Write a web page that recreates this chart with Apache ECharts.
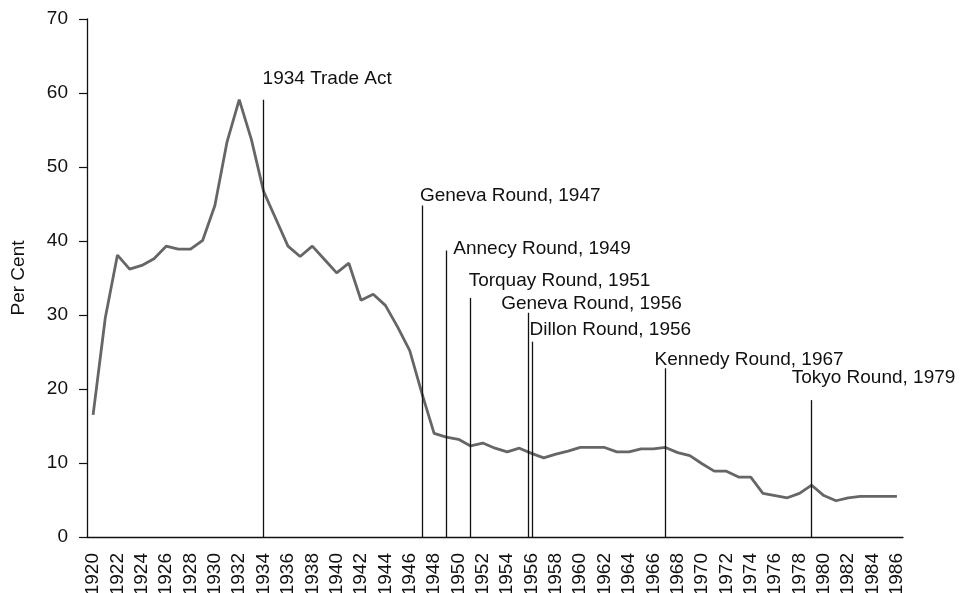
<!DOCTYPE html>
<html>
<head>
<meta charset="utf-8">
<script src="https://cdn.jsdelivr.net/npm/echarts@6/dist/echarts.min.js"></script>
<style>
  html, body { margin: 0; padding: 0; background: #fff; }
  #chart { width: 964px; height: 593px; }
</style>
</head>
<body>
<div id="chart"></div>
<script>
// years on the category axis
var years = []
for (var y = 1920; y <= 1986; y++) years.push(String(y))

// average tariff rate, per cent
var tariffRate = [
  16.5, 29.6, 38.1, 36.2, 36.7, 37.6, 39.3, 38.9, 38.9, 40.1,
  44.8, 53.4, 59.1, 53.7, 46.7, 43.0, 39.3, 37.9, 39.3, 37.5,
  35.7, 37.0, 32.0, 32.8, 31.3, 28.4, 25.2, 19.4, 14.0, 13.5,
  13.2, 12.3, 12.7, 12.0, 11.5, 12.0, 11.3, 10.7, 11.2, 11.6,
  12.1, 12.1, 12.1, 11.5, 11.5, 11.9, 11.9, 12.1, 11.4, 11.0,
  9.9, 8.9, 8.9, 8.1, 8.1, 5.9, 5.6, 5.3, 5.9, 7.0,
  5.6, 4.9, 5.3, 5.5, 5.5, 5.5, 5.5
]

// trade events: name, position on the year scale, height of the marker line
var eventNames = [
  '1934 Trade Act', 'Geneva Round, 1947', 'Annecy Round, 1949', 'Torquay Round, 1951',
  'Geneva Round, 1956', 'Dillon Round, 1956', 'Kennedy Round, 1967', 'Tokyo Round, 1979'
]
var eventYears = [1934, 1947, 1949, 1951, 1955.72, 1956.08, 1967, 1979]
var eventTops = [59.1, 44.8, 38.7, 32.3, 30.3, 26.4, 22.8, 18.5]

// label nudges (px) relative to the top of each marker line
var labelOffsets = [[-1, -21], [-2, -10], [7, -2], [-2, -17], [-27, -9], [-3, -12], [-11, -9], [-20, -22]]

var yTicks = { min: 0, max: 70, interval: 10 }

var font = 'Liberation Sans, Arial, Helvetica, sans-serif'
var ink = '#111111'

var myChart = echarts.init(document.getElementById('chart'))

var eventLines = []
var eventLabels = []
for (var i = 0; i < eventNames.length; i++) {
  eventLines.push([
    { coord: [eventYears[i], 0] },
    { coord: [eventYears[i], eventTops[i]] }
  ])
  eventLabels.push({
    name: eventNames[i],
    value: [eventYears[i], eventTops[i]],
    label: { offset: labelOffsets[i] }
  })
}

myChart.setOption({
  animation: false,
  grid: { left: 87, right: 61, top: 19, bottom: 56, containLabel: false, outerBoundsMode: 'none' },
  xAxis: [
    {
      type: 'category',
      data: years,
      boundaryGap: true,
      axisLine: { lineStyle: { color: ink, width: 1.3 } },
      axisTick: { interval: 0, length: 7, lineStyle: { color: ink, width: 1.2 } },
      axisLabel: {
        interval: 1,
        rotate: 90,
        margin: 16,
        color: ink,
        fontFamily: font,
        fontSize: 19
      },
      splitLine: { show: false }
    },
    {
      type: 'value',
      min: 1919.5,
      max: 1986.5,
      show: false
    }
  ],
  yAxis: {
    type: 'value',
    min: yTicks.min,
    max: yTicks.max,
    interval: yTicks.interval,
    name: 'Per Cent',
    nameLocation: 'middle',
    nameGap: 59,
    nameTextStyle: { color: ink, fontFamily: font, fontSize: 19 },
    axisLine: { show: true, lineStyle: { color: ink, width: 1.3 } },
    axisTick: { show: true, length: 8, lineStyle: { color: ink, width: 1.2 } },
    axisLabel: { margin: 19, color: ink, fontFamily: font, fontSize: 19 },
    splitLine: { show: false }
  },
  series: [
    {
      name: 'tariff',
      type: 'line',
      data: tariffRate,
      symbol: 'none',
      lineStyle: { color: '#666666', width: 2.8 },
      z: 3
    },
    {
      name: 'events',
      type: 'scatter',
      xAxisIndex: 1,
      data: eventLabels,
      symbolSize: 0,
      itemStyle: { color: ink, opacity: 1 },
      label: {
        show: true,
        position: [0, 0],
        align: 'left',
        verticalAlign: 'middle',
        formatter: '{b}',
        color: ink,
        opacity: 1,
        textBorderWidth: 0,
        fontFamily: font,
        fontSize: 19
      },
      markLine: {
        silent: true,
        symbol: ['none', 'none'],
        label: { show: false },
        lineStyle: { color: '#111111', width: 1.3, type: 'solid', opacity: 1 },
        data: eventLines
      },
      z: 4
    }
  ]
})
</script>
</body>
</html>
